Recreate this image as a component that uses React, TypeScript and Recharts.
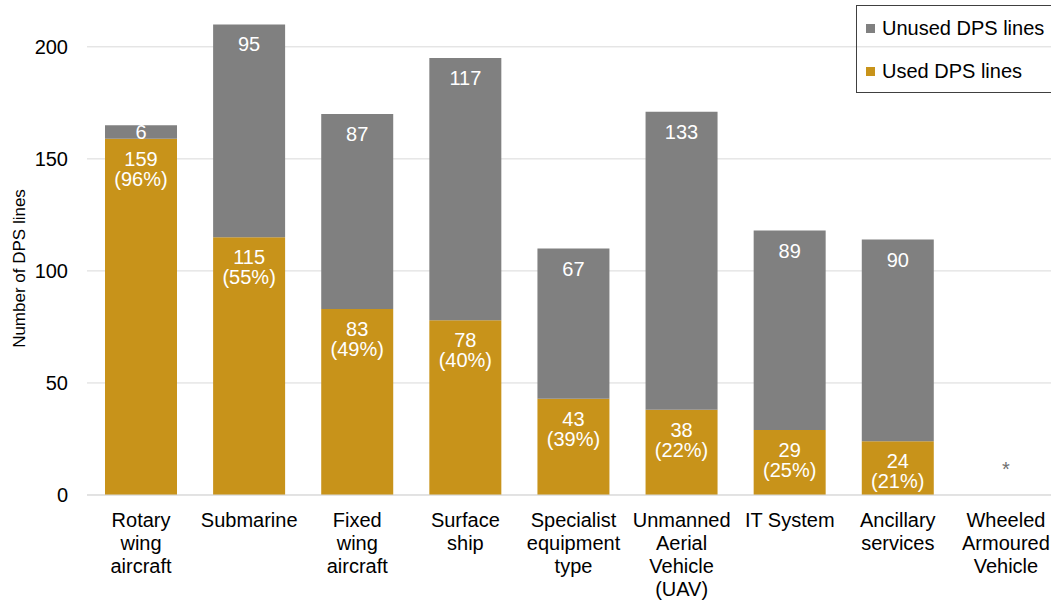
import { BarChart, Bar, XAxis, YAxis, CartesianGrid, Legend, LabelList, Label } from 'recharts'

const categories = [
  'Rotary\nwing\naircraft',
  'Submarine',
  'Fixed\nwing\naircraft',
  'Surface\nship',
  'Specialist\nequipment\ntype',
  'Unmanned\nAerial\nVehicle\n(UAV)',
  'IT System',
  'Ancillary\nservices',
  'Wheeled\nArmoured\nVehicle',
]
const usedLines = [159, 115, 83, 78, 43, 38, 29, 24, 0]
const unusedLines = [6, 95, 87, 117, 67, 133, 89, 90, 0]
const usedShare = ['96%', '55%', '49%', '40%', '39%', '22%', '25%', '21%', '']
const yTicks = [0, 50, 100, 150, 200]
const noDataMark = '*'

const GOLD = '#C8931A'
const GREY = '#808080'
const FONT = '"Liberation Sans", Arial, sans-serif'

const data = categories.map((name, i) => ({
  name,
  used: usedLines[i],
  unused: unusedLines[i],
  usedLabel: `${usedLines[i]}|${usedShare[i]}`,
}))

// category names wrap on '\n'; categories with no data get the '*' marker above the axis
const CategoryTick = (props: any) => {
  const { x, y, payload, index } = props
  const lines = String(payload.value).split('\n')
  const empty = !usedLines[index] && !unusedLines[index]
  return (
    <g>
      {empty && (
        <text x={x} y={y - 19} textAnchor="middle" fontSize={20} fill="#707070">
          {noDataMark}
        </text>
      )}
      <text x={x} y={y} textAnchor="middle" fontSize={20} fill="#000">
        {lines.map((line, i) => (
          <tspan key={i} x={x} dy={i === 0 ? 32 : 23}>
            {line}
          </tspan>
        ))}
      </text>
    </g>
  )
}

const UsedLabel = (props: any) => {
  const { x, y, width, value } = props
  const [count, pct] = String(value).split('|')
  if (!Number(count)) return null
  const cx = Number(x) + Number(width) / 2
  return (
    <text x={cx} y={y} textAnchor="middle" fontSize={20} fill="#fff">
      <tspan x={cx} dy={27}>{count}</tspan>
      <tspan x={cx} dy={20}>({pct})</tspan>
    </text>
  )
}

const UnusedLabel = (props: any) => {
  const { x, y, width, height, value } = props
  if (!value) return null
  const cx = Number(x) + Number(width) / 2
  const h = Number(height)
  return (
    <text x={cx} y={Number(y) + Math.min(27, h / 2 + 7)} textAnchor="middle" fontSize={20} fill="#fff">
      {value}
    </text>
  )
}

const AxisTitle = (props: any) => {
  const { viewBox } = props
  const cx = 19
  const cy = viewBox.y + viewBox.height / 2 + 20
  return (
    <text x={cx} y={cy} transform={`rotate(-90 ${cx} ${cy})`} textAnchor="middle" dominantBaseline="central" fontSize={17} fill="#000">
      Number of DPS lines
    </text>
  )
}

const renderLegend = () => (
  <div
    style={{
      width: 200,
      height: 88,
      boxSizing: 'border-box',
      border: '1px solid #404040',
      fontSize: 20,
      color: '#000',
      position: 'relative',
    }}
  >
    {[
      { label: 'Unused DPS lines', color: GREY, top: 11 },
      { label: 'Used DPS lines', color: GOLD, top: 54 },
    ].map((item) => (
      <div key={item.label} style={{ position: 'absolute', left: 9, top: item.top, display: 'flex', alignItems: 'center', whiteSpace: 'nowrap', lineHeight: '23px' }}>
        <span style={{ width: 9, height: 9, background: item.color, display: 'inline-block', marginRight: 7 }} />
        {item.label}
      </div>
    ))}
  </div>
)

export default function App() {
  return (
    <div style={{ position: 'absolute', left: 0, top: 0, width: 1051, height: 605, overflow: 'hidden', background: '#fff', fontFamily: FONT }}>
      <BarChart width={1060} height={605} data={data} margin={{ top: 2, right: 0, bottom: 0, left: 0 }} barSize={72}>
        <CartesianGrid vertical={false} stroke="#d9d9d9" horizontalValues={yTicks} />
        <XAxis
          dataKey="name"
          interval={0}
          tick={<CategoryTick />}
          tickLine={false}
          tickSize={0}
          tickMargin={0}
          axisLine={{ stroke: '#d9d9d9' }}
          height={110}
        />
        <YAxis
          domain={[0, 220]}
          ticks={yTicks}
          allowDataOverflow
          width={87}
          axisLine={false}
          tickLine={false}
          tickSize={0}
          tickMargin={19}
          tick={{ fontSize: 20, fill: '#000' }}
        >
          <Label content={<AxisTitle />} />
        </YAxis>
        <Legend
          layout="vertical"
          align="center"
          verticalAlign="middle"
          wrapperStyle={{ left: 856, top: 5, width: 200, height: 88 }}
          content={renderLegend}
        />
        <Bar dataKey="used" stackId="a" fill={GOLD} name="Used DPS lines" isAnimationActive={false}>
          <LabelList dataKey="usedLabel" content={<UsedLabel />} />
        </Bar>
        <Bar dataKey="unused" stackId="a" fill={GREY} name="Unused DPS lines" isAnimationActive={false}>
          <LabelList dataKey="unused" content={<UnusedLabel />} />
        </Bar>
      </BarChart>
    </div>
  )
}
